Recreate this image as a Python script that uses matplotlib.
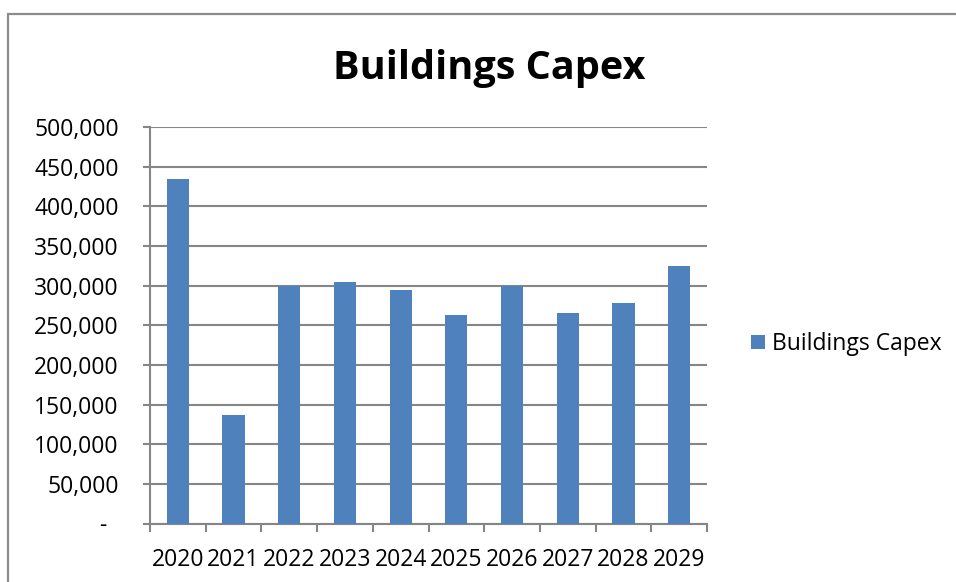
import matplotlib.pyplot as plt
from matplotlib.patches import Rectangle
from matplotlib.ticker import FixedLocator, FuncFormatter
import matplotlib.transforms as mtransforms

# data
years = ["2020", "2021", "2022", "2023", "2024", "2025", "2026", "2027", "2028", "2029"]
capex = [435000, 137000, 300000, 304000, 294000, 263000, 300000, 265000, 278000, 325000]
y_ticks = [0, 50000, 100000, 150000, 200000, 250000, 300000, 350000, 400000, 450000, 500000]

BAR_COLOR = "#4F81BD"
GRID_COLOR = "#868686"
FONT = "Open Sans"
LABEL_SIZE = 16.5

plt.rcParams["font.family"] = [FONT, "DejaVu Sans"]

fig = plt.figure(figsize=(9.56, 5.82), dpi=100)
fig.patch.set_facecolor("white")

# chart frame (cropped on right and bottom like the reference)
fig.patches.append(Rectangle((8 / 956, -0.1), 1.2, 1 - 14 / 582 + 0.1,
                             transform=fig.transFigure, fill=False,
                             edgecolor="#8C8C8C", linewidth=1.6))

ax = fig.add_axes([150 / 956, 1 - 523.5 / 582, 557 / 956, (523.5 - 127) / 582])
x = range(len(years))
ax.bar(x, capex, width=0.4, color=BAR_COLOR, label="Buildings Capex", zorder=3)

ax.set_xlim(-0.5, len(years) - 0.5)
ax.set_ylim(0, 500000)
ax.yaxis.set_major_locator(FixedLocator(y_ticks))
ax.yaxis.set_major_formatter(FuncFormatter(lambda v, p: "-" if v == 0 else f"{v:,.0f}"))
ax.set_xticks(list(x))
ax.set_xticklabels(years)
ax.set_xticks([i - 0.5 for i in range(len(years) + 1)], minor=True)

ax.grid(axis="y", color=GRID_COLOR, linewidth=1.5, zorder=0)
for side in ["top", "right"]:
    ax.spines[side].set_visible(False)
for side in ["left", "bottom"]:
    ax.spines[side].set_color(GRID_COLOR)
    ax.spines[side].set_linewidth(1.5)

ax.tick_params(axis="x", which="major", length=0, pad=18, labelsize=LABEL_SIZE)
ax.tick_params(axis="x", which="minor", length=6, width=1.5, color=GRID_COLOR, direction="out")
ax.tick_params(axis="y", length=5, width=1.5, color=GRID_COLOR, pad=17.5, labelsize=LABEL_SIZE)

# Excel accounting format puts the zero dash a little further left
zero_label = ax.get_yticklabels()[0]
zero_label.set_transform(zero_label.get_transform() +
                         mtransforms.ScaledTranslation(-12 / 100, 0, fig.dpi_scale_trans))

fig.text(489 / 956, 1 - 69 / 582, "Buildings Capex", ha="center", va="center",
         fontsize=28.5, fontweight="bold")

ax.legend(loc="center left", bbox_to_anchor=(751 / 956, 1 - 344 / 582),
          bbox_transform=fig.transFigure, frameon=False, fontsize=LABEL_SIZE,
          borderpad=0, borderaxespad=0, handlelength=0.6, handleheight=0.6,
          handletextpad=0.3)

fig.savefig("out.png", dpi=100)
